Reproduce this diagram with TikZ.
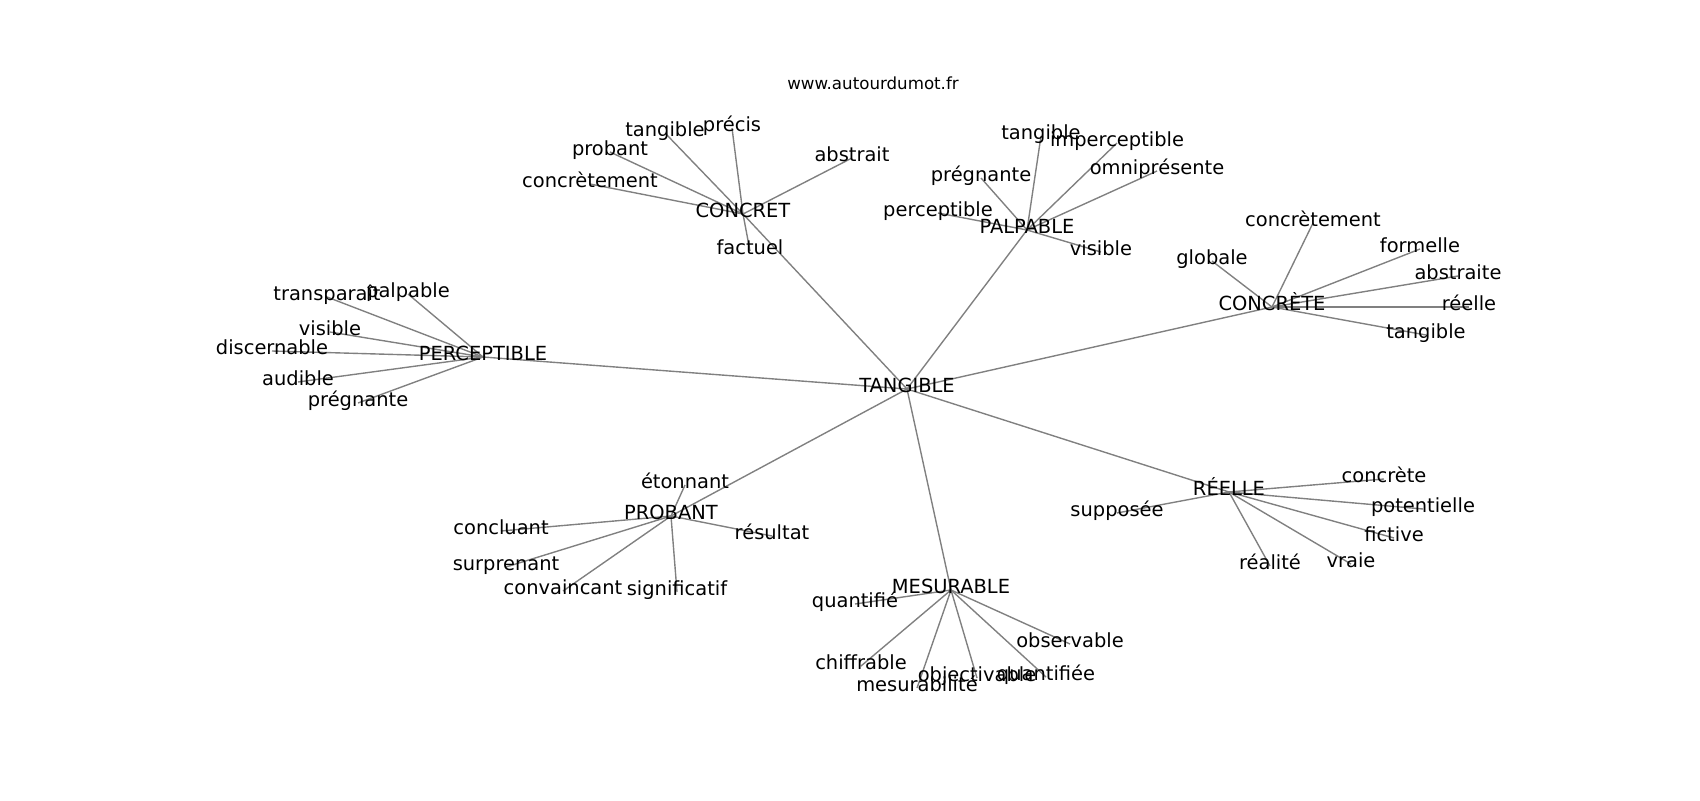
\documentclass[tikz,border=0pt]{standalone}
\usepackage{fontspec}
\setmainfont{DejaVu Sans}
\usetikzlibrary{backgrounds}
\tikzset{
	word/.style={font=\fontsize{14}{17}\selectfont, inner sep=0pt, text height=0.76em, text depth=0.23em},
	edge/.style={draw=gray, line width=1pt}
}

\begin{document}
\begin{tikzpicture}[x=0.72pt, y=-0.72pt]
			%%%%% START %%%%%
			
			\useasboundingbox (0, 0) rectangle (1700, 800);
			
			\node[font=\fontsize{12}{14}\selectfont, inner sep=0pt] (site) at (873, 83) {www.autourdumot.fr};
			
			\node[word] (tangible) at (907, 389) {TANGIBLE};
			
			\node[word] (concret) at (743, 214) {CONCRET};
			\node[word] (ctangible) at (665, 133) {tangible};
			\node[word] (cprecis) at (732, 128) {précis};
			\node[word] (cprobant) at (610, 152) {probant};
			\node[word] (cconcretement) at (590, 184) {concrètement};
			\node[word] (cabstrait) at (852, 158) {abstrait};
			\node[word] (cfactuel) at (750, 251) {factuel};
			
			\node[word] (palpable) at (1027, 230) {PALPABLE};
			\node[word] (ptangible) at (1041, 136) {tangible};
			\node[word] (pimperceptible) at (1117, 143) {imperceptible};
			\node[word] (pomnipresente) at (1157, 171) {omniprésente};
			\node[word] (ppregnante) at (981, 178) {prégnante};
			\node[word] (pperceptible) at (938, 213) {perceptible};
			\node[word] (pvisible) at (1101, 252) {visible};
			
			\node[word] (concrete) at (1272, 307) {CONCRÈTE};
			\node[word] (kconcretement) at (1313, 223) {concrètement};
			\node[word] (kglobale) at (1212, 261) {globale};
			\node[word] (kformelle) at (1420, 249) {formelle};
			\node[word] (kabstraite) at (1458, 276) {abstraite};
			\node[word] (kreelle) at (1469, 307) {réelle};
			\node[word] (ktangible) at (1426, 335) {tangible};
			
			\node[word] (perceptible) at (483, 357) {PERCEPTIBLE};
			\node[word] (etransparait) at (327, 297) {transparaît};
			\node[word] (epalpable) at (408, 294) {palpable};
			\node[word] (evisible) at (330, 332) {visible};
			\node[word] (ediscernable) at (272, 351) {discernable};
			\node[word] (eaudible) at (298, 382) {audible};
			\node[word] (epregnante) at (358, 403) {prégnante};
			
			\node[word] (probant) at (671, 516) {PROBANT};
			\node[word] (betonnant) at (685, 485) {étonnant};
			\node[word] (bconcluant) at (501, 531) {concluant};
			\node[word] (bresultat) at (772, 536) {résultat};
			\node[word] (bsurprenant) at (506, 567) {surprenant};
			\node[word] (bconvaincant) at (563, 591) {convaincant};
			\node[word] (bsignificatif) at (677, 592) {significatif};
			
			\node[word] (mesurable) at (951, 590) {MESURABLE};
			\node[word] (mquantifie) at (855, 604) {quantifié};
			\node[word] (mobservable) at (1070, 644) {observable};
			\node[word] (mchiffrable) at (861, 666) {chiffrable};
			\node[word] (mmesurabilite) at (917, 688) {mesurabilité};
			\node[word] (mobjectivable) at (977, 678) {objectivable};
			\node[word] (mquantifiee) at (1046, 677) {quantifiée};
			
			\node[word] (reelle) at (1229, 492) {RÉELLE};
			\node[word] (rconcrete) at (1384, 479) {concrète};
			\node[word] (rsupposee) at (1117, 513) {supposée};
			\node[word] (rpotentielle) at (1423, 509) {potentielle};
			\node[word] (rfictive) at (1394, 538) {fictive};
			\node[word] (rrealite) at (1270, 566) {réalité};
			\node[word] (rvraie) at (1351, 564) {vraie};
			
			\begin{scope}[on background layer]
			\draw[edge] (tangible.center) -- (concret.center);
			\draw[edge] (tangible.center) -- (palpable.center);
			\draw[edge] (tangible.center) -- (concrete.center);
			\draw[edge] (tangible.center) -- (perceptible.center);
			\draw[edge] (tangible.center) -- (probant.center);
			\draw[edge] (tangible.center) -- (mesurable.center);
			\draw[edge] (tangible.center) -- (reelle.center);
			
			\draw[edge] (concret.center) -- (ctangible.center);
			\draw[edge] (concret.center) -- (cprecis.center);
			\draw[edge] (concret.center) -- (cprobant.center);
			\draw[edge] (concret.center) -- (cconcretement.center);
			\draw[edge] (concret.center) -- (cabstrait.center);
			\draw[edge] (concret.center) -- (cfactuel.center);
			
			\draw[edge] (palpable.center) -- (ptangible.center);
			\draw[edge] (palpable.center) -- (pimperceptible.center);
			\draw[edge] (palpable.center) -- (pomnipresente.center);
			\draw[edge] (palpable.center) -- (ppregnante.center);
			\draw[edge] (palpable.center) -- (pperceptible.center);
			\draw[edge] (palpable.center) -- (pvisible.center);
			
			\draw[edge] (concrete.center) -- (kconcretement.center);
			\draw[edge] (concrete.center) -- (kglobale.center);
			\draw[edge] (concrete.center) -- (kformelle.center);
			\draw[edge] (concrete.center) -- (kabstraite.center);
			\draw[edge] (concrete.center) -- (kreelle.center);
			\draw[edge] (concrete.center) -- (ktangible.center);
			
			\draw[edge] (perceptible.center) -- (etransparait.center);
			\draw[edge] (perceptible.center) -- (epalpable.center);
			\draw[edge] (perceptible.center) -- (evisible.center);
			\draw[edge] (perceptible.center) -- (ediscernable.center);
			\draw[edge] (perceptible.center) -- (eaudible.center);
			\draw[edge] (perceptible.center) -- (epregnante.center);
			
			\draw[edge] (probant.center) -- (betonnant.center);
			\draw[edge] (probant.center) -- (bconcluant.center);
			\draw[edge] (probant.center) -- (bresultat.center);
			\draw[edge] (probant.center) -- (bsurprenant.center);
			\draw[edge] (probant.center) -- (bconvaincant.center);
			\draw[edge] (probant.center) -- (bsignificatif.center);
			
			\draw[edge] (mesurable.center) -- (mquantifie.center);
			\draw[edge] (mesurable.center) -- (mobservable.center);
			\draw[edge] (mesurable.center) -- (mchiffrable.center);
			\draw[edge] (mesurable.center) -- (mmesurabilite.center);
			\draw[edge] (mesurable.center) -- (mobjectivable.center);
			\draw[edge] (mesurable.center) -- (mquantifiee.center);
			
			\draw[edge] (reelle.center) -- (rconcrete.center);
			\draw[edge] (reelle.center) -- (rsupposee.center);
			\draw[edge] (reelle.center) -- (rpotentielle.center);
			\draw[edge] (reelle.center) -- (rfictive.center);
			\draw[edge] (reelle.center) -- (rrealite.center);
			\draw[edge] (reelle.center) -- (rvraie.center);
			\end{scope}
			
			%%%%% END %%%%%
\end{tikzpicture}
\end{document}
